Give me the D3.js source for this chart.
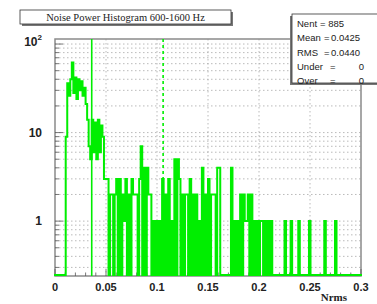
<!DOCTYPE html>
<html>
<head>
<meta charset="utf-8">
<script src="https://cdn.jsdelivr.net/npm/d3@7"></script>
<style>
  body { margin: 0; background: #fff; }
  svg { display: block; }
</style>
</head>
<body>
<svg id="chart" width="377" height="304"></svg>
<script>
// histogram: 200 bins from 0 to 0.3, drawn as an outline (ROOT style)
const binLow = 0;
const binHigh = 0.3;
const counts = [
  // 0 - 0.045
  0, 0, 0, 0, 0, 0, 0, 9, 36, 26,
  40, 62, 28, 42, 24, 40, 30, 38, 26, 32,
  21, 14, 7, 5, 14, 6, 13, 5, 14, 6,
  // 0.045 - 0.09
  12, 9, 3, 3, 3, 0, 2, 2, 0, 2,
  3, 0, 3, 0, 2, 1, 3, 0, 2, 0,
  3, 2, 2, 2, 0, 3, 7, 0, 4, 0,
  // 0.09 - 0.135
  4, 2, 2, 0, 1, 0, 1, 0, 1, 0,
  3, 0, 2, 0, 3, 0, 1, 0, 5, 0,
  5, 3, 0, 2, 0, 2, 2, 0, 3, 0,
  // 0.135 - 0.18
  2, 0, 2, 0, 1, 0, 4, 0, 2, 0,
  3, 0, 2, 2, 2, 0, 4, 4, 0, 0,
  0, 0, 0, 0, 0, 4, 0, 1, 0, 1,
  // 0.18 - 0.225
  0, 2, 0, 2, 1, 1, 2, 0, 2, 0,
  1, 0, 1, 0, 1, 1, 0, 1, 0, 1,
  0, 1, 0, 0, 0, 0, 0, 0, 0, 0,
  // 0.225 - 0.27
  1, 0, 0, 0, 1, 0, 0, 0, 0, 1,
  0, 0, 0, 0, 0, 0, 1, 0, 0, 0,
  0, 0, 0, 0, 0, 0, 1, 0, 0, 0,
  // 0.27 - 0.3
  0, 0, 0, 1, 0, 0, 0, 0, 0, 0,
  0, 0, 0, 0, 0, 0, 0, 0, 0, 0
];
const cutLines = [
  { x: 0.036, dash: null },
  { x: 0.106, dash: '3,3' }
];
const xTicks = [0, 0.05, 0.1, 0.15, 0.2, 0.25, 0.3];
const xTickLabels = ['0', '0.05', '0.1', '0.15', '0.2', '0.25', '0.3'];
const yMajor = [1, 10, 100];
const titleText = 'Noise Power Histogram 600-1600 Hz';
const statNames = ['Nent', 'Mean', 'RMS', 'Under', 'Over'];
const statValues = ['885', '0.0425', '0.0440', '0', '0'];

const svg = d3.select('#chart');
const frame = { left: 55, right: 361, top: 39, bottom: 276 };

const x = d3.scaleLinear().domain([binLow, binHigh]).range([frame.left, frame.right]);
const y = d3.scaleLog().domain([0.24, 114]).range([frame.bottom, frame.top]);

const binW = (binHigh - binLow) / counts.length;
const bins = counts.map((c, i) => ({ x0: binLow + i * binW, x1: binLow + (i + 1) * binW, c }));

// log ticks 0.3 .. 100
const yMinor = [];
[0.1, 1, 10].forEach(d => {
  for (let k = 1; k <= 9; k += 1) {
    const v = d * k;
    if (v >= 0.25 && v <= 100) yMinor.push(v);
  }
});
yMinor.push(100);
const xMinor = d3.range(0, 0.3001, 0.01);

// grid
const grid = svg.append('g').attr('stroke', '#a8a8a8').attr('stroke-width', 0.8)
  .attr('stroke-dasharray', '1.5,2.5');
grid.selectAll('.hg').data(yMinor).enter().append('line')
  .attr('x1', frame.left).attr('x2', frame.right)
  .attr('y1', d => y(d)).attr('y2', d => y(d));
grid.selectAll('.vg').data(xTicks.slice(1, -1)).enter().append('line')
  .attr('x1', d => x(d)).attr('x2', d => x(d))
  .attr('y1', frame.top).attr('y2', frame.bottom);

// frame
svg.append('rect')
  .attr('x', frame.left).attr('y', frame.top)
  .attr('width', frame.right - frame.left).attr('height', frame.bottom - frame.top)
  .attr('fill', 'none').attr('stroke', '#8a8a8a').attr('stroke-width', 1.5);

// ticks (inward)
const ticks = svg.append('g').attr('stroke', '#555').attr('stroke-width', 0.8);
ticks.selectAll('.ym').data(yMinor).enter().append('line')
  .attr('x1', frame.left).attr('x2', d => frame.left + (yMajor.includes(d) ? 8 : 4))
  .attr('y1', d => y(d)).attr('y2', d => y(d));
ticks.selectAll('.xm').data(xMinor).enter().append('line')
  .attr('x1', d => x(d)).attr('x2', d => x(d))
  .attr('y1', frame.bottom).attr('y2', (d, i) => frame.bottom - (i % 5 === 0 ? 7 : 3.5));

// histogram outline, empty bins go down to the frame bottom
const green = '#00ee00';
const pts = [[frame.left, frame.bottom]];
bins.forEach(b => {
  const v = b.c > 0 ? y(b.c) : frame.bottom - 1;
  pts.push([x(b.x0), v], [x(b.x1), v]);
});
pts.push([frame.right, frame.bottom]);
svg.append('path')
  .attr('d', d3.line()(pts))
  .attr('fill', 'none').attr('stroke', green).attr('stroke-width', 2)
  .attr('stroke-linejoin', 'miter');

// cut lines
svg.selectAll('.cut').data(cutLines).enter().append('line')
  .attr('x1', d => x(d.x)).attr('x2', d => x(d.x))
  .attr('y1', frame.top).attr('y2', frame.bottom)
  .attr('stroke', green).attr('stroke-width', 1.6)
  .attr('stroke-dasharray', d => d.dash);

// x axis labels
const font = 'Liberation Sans, Arial, sans-serif';
svg.append('g').selectAll('text').data(xTicks).enter().append('text')
  .attr('x', d => x(d)).attr('y', 291)
  .attr('text-anchor', 'middle')
  .attr('font-family', font).attr('font-weight', 'bold').attr('font-size', 11)
  .attr('fill', '#222')
  .text((d, i) => xTickLabels[i]);

svg.append('text')
  .attr('x', 347).attr('y', 301)
  .attr('text-anchor', 'end')
  .attr('font-family', 'Liberation Serif, serif').attr('font-weight', 'bold').attr('font-size', 11)
  .attr('fill', '#222')
  .text('Nrms');

// y axis labels
const yl = svg.append('g').attr('font-family', font).attr('font-weight', 'bold')
  .attr('font-size', 12).attr('fill', '#222').attr('text-anchor', 'end');
yl.append('text').attr('x', 42).attr('y', y(1) + 4).text('1');
yl.append('text').attr('x', 42).attr('y', y(10) + 4).text('10');
const t100 = yl.append('text').attr('x', 42).attr('y', y(100) + 2);
t100.append('tspan').text('10');
t100.append('tspan').attr('dy', -6).attr('font-size', 8).text('2');

// title box
const tb = svg.append('g');
tb.append('rect').attr('x', 22).attr('y', 12).attr('width', 211).attr('height', 14).attr('fill', '#777');
tb.append('rect').attr('x', 20).attr('y', 10).attr('width', 211).attr('height', 14)
  .attr('fill', '#fff').attr('stroke', '#333').attr('stroke-width', 0.8);
tb.append('text').attr('x', 125.5).attr('y', 21)
  .attr('text-anchor', 'middle')
  .attr('font-family', 'Liberation Serif, serif').attr('font-size', 10.5).attr('fill', '#222')
  .text(titleText);

// stats box
const sb = svg.append('g');
sb.append('rect').attr('x', 290).attr('y', 16).attr('width', 100).attr('height', 69).attr('fill', '#777');
sb.append('rect').attr('x', 292).attr('y', 14).attr('width', 100).attr('height', 69)
  .attr('fill', '#fff').attr('stroke', '#333').attr('stroke-width', 0.8);
const sText = sb.append('g').attr('font-family', font).attr('font-size', 9.5).attr('fill', '#222');
statNames.forEach((n, i) => {
  const yy = 27 + i * 14.3;
  sText.append('text').attr('x', 297).attr('y', yy).text(n);
  const eqX = n === 'Nent' ? 320 : (n === 'Under' || n === 'Over' ? 330 : 324);
  sText.append('text').attr('x', eqX).attr('y', yy)
    .text(n === 'Nent' ? '= ' + statValues[i] : '=');
  if (n !== 'Nent') {
    sText.append('text').attr('x', n === 'Under' || n === 'Over' ? 364 : 331).attr('y', yy)
      .attr('text-anchor', n === 'Under' || n === 'Over' ? 'end' : 'start')
      .text(statValues[i]);
  }
});
</script>
</body>
</html>
